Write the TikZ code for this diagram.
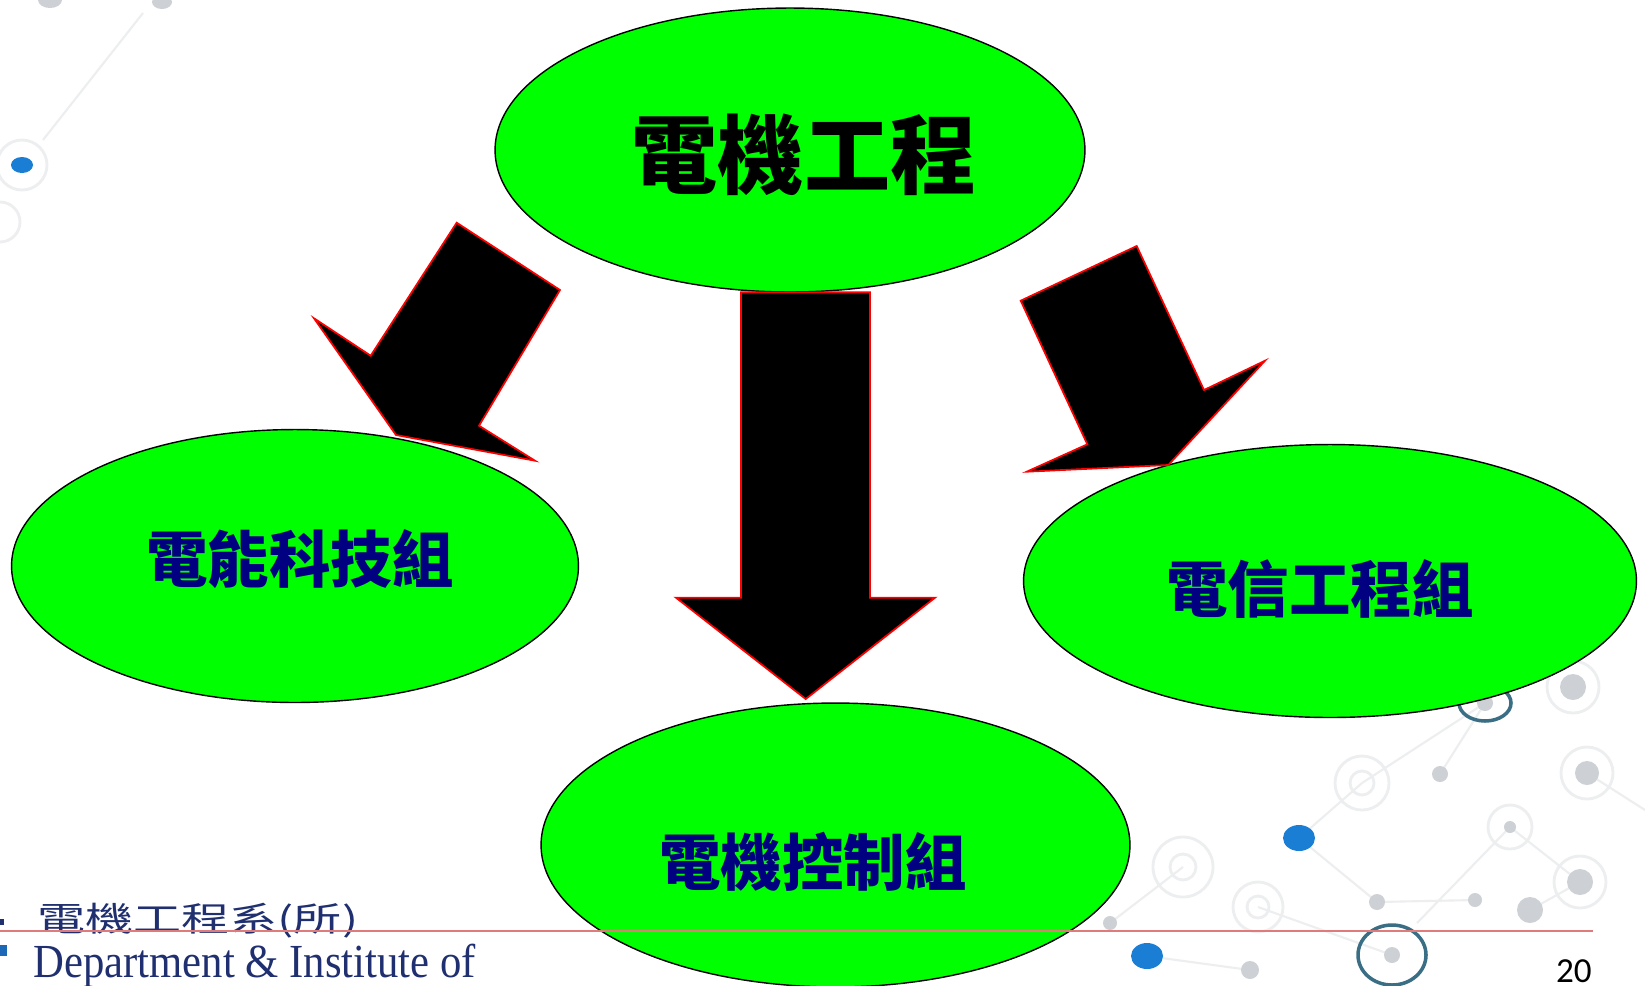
\documentclass[tikz,border=0pt]{standalone}
\usepackage{fontspec}
\setmainfont{Liberation Serif}
\newfontfamily\cjk{Noto Sans CJK TC}
\newfontfamily\numfont{Carlito}
\usetikzlibrary{shapes.geometric}
\definecolor{bubgreen}{HTML}{00FF00}
\definecolor{navytext}{HTML}{000080}
\definecolor{footnavy}{HTML}{1F2F6F}
\definecolor{dotblue}{HTML}{1A7FD4}
\definecolor{ringteal}{HTML}{3A6E85}
\definecolor{dotgray}{HTML}{CDD1D5}
\definecolor{faintgray}{HTML}{EDEEF0}
\definecolor{rulered}{HTML}{E07B7B}
\tikzset{
  bub/.style={ellipse, draw=black, line width=0.8pt, fill=bubgreen, inner sep=0pt},
  blockarrow/.style={fill=black, draw=red, line width=1pt, line join=miter},
  toplbl/.style={font=\cjk\bfseries\fontsize{49}{49}\selectfont, text=black, inner sep=0pt},
  grplbl/.style={font=\cjk\bfseries\fontsize{35}{35}\selectfont, text=navytext, inner sep=0pt},
  bgline/.style={draw=faintgray, line width=1.2pt},
  bgring/.style={draw=faintgray, line width=1.6pt},
  bgdot/.style={fill=dotgray},
  bluedot/.style={fill=dotblue},
  darkring/.style={draw=ringteal, line width=2pt}
}
\begin{document}
\begin{tikzpicture}[x=0.02cm,y=-0.02cm]
\useasboundingbox (0,0) rectangle (1645,985);
\fill[white] (0,0) rectangle (1645,985);

% ---- faint background network ----
\draw[bgline] (143,13) -- (43,140);
\fill[bgdot] (50,0) ellipse (12 and 8);
\fill[bgdot] (162,2) ellipse (10 and 7);
\draw[bgring] (22,165) circle (25);
\draw[bgring] (0,222) circle (20);
\fill[bluedot] (22,165) ellipse (11 and 8);

\draw[bgline] (1485,703) -- (1362,783);
\draw[bgline] (1485,703) -- (1440,774);
\draw[bgline] (1362,783) -- (1299,838);
\draw[bgline] (1299,838) -- (1377,902);
\draw[bgline] (1377,902) -- (1475,900);
\draw[bgline] (1510,827) -- (1417,923);
\draw[bgline] (1510,827) -- (1580,882);
\draw[bgline] (1580,882) -- (1530,910);
\draw[bgline] (1183,867) -- (1110,923);
\draw[bgline] (1258,907) -- (1392,955);
\draw[bgline] (1147,956) -- (1250,970);
\draw[bgline] (1587,773) -- (1645,810);
\draw[bgring] (1362,783) circle (27);
\draw[bgring] (1362,783) circle (12);
\draw[bgring] (1183,867) circle (30);
\draw[bgring] (1183,867) circle (13);
\draw[bgring] (1258,907) circle (25);
\draw[bgring] (1258,907) circle (11);
\draw[bgring] (1510,827) circle (22);
\draw[bgring] (1580,882) circle (26);
\draw[bgring] (1587,773) circle (26);
\draw[bgring] (1573,687) circle (26);
\fill[bgdot] (1440,774) circle (8);
\fill[bgdot] (1377,902) circle (8);
\fill[bgdot] (1475,900) circle (7);
\fill[bgdot] (1110,923) circle (7);
\fill[bgdot] (1250,970) circle (9);
\fill[bgdot] (1510,827) circle (6);
\fill[bgdot] (1530,910) circle (13);
\fill[bgdot] (1580,882) circle (13);
\fill[bgdot] (1587,773) circle (12);
\fill[bgdot] (1573,687) circle (13);
\fill[bgdot] (1392,955) circle (8);
\fill[bgdot] (1485,703) circle (8);
\draw[darkring] (1485,703) ellipse (26 and 18);
\draw[darkring] (1392,955) ellipse (34 and 30);
\fill[bluedot] (1299,838) ellipse (16 and 13);
\fill[bluedot] (1147,956) ellipse (16 and 13);

% ---- bubbles ----
\node[bub, minimum width=11.80cm, minimum height=5.68cm] (top) at (790,150) {};
\node[bub, minimum width=11.34cm, minimum height=5.46cm] (left) at (295,566) {};
\node[bub, minimum width=12.26cm, minimum height=5.46cm] (right) at (1330,581) {};
\node[bub, minimum width=11.78cm, minimum height=5.68cm] (bottom) at (835.5,845) {};

\node[toplbl] (toptext) at (804,155) {電機工程};
\node[grplbl] (lefttext) at (300,559) {電能科技組};
\node[grplbl] (righttext) at (1320,589) {電信工程組};
\node[grplbl] (bottomtext) at (813,862) {電機控制組};

% ---- block arrows ----
\draw[blockarrow] (456.7,222.7) -- (560,290) -- (479,425.7) -- (535,460.7)
  -- (396,435) -- (314,318.3) -- (370.7,355.7) -- cycle;
\draw[blockarrow] (741,292.3) -- (870,292.3) -- (870,597.7) -- (935,597.7)
  -- (805.7,699) -- (676,597.7) -- (741,597.7) -- cycle;
\draw[blockarrow] (1020.7,300.7) -- (1136.7,246) -- (1204,390) -- (1265,360.7)
  -- (1168.3,465) -- (1026.7,471.7) -- (1087.3,444.3) -- cycle;

% ---- footer ----
\fill[footnavy] (0,919) rectangle (4,925);
\fill[dotblue!70!footnavy] (0,945) rectangle (7,956);
\node[anchor=base west, inner sep=0pt, text=footnavy,
  font=\cjk\fontsize{24}{24}\selectfont] (foot1) at (37,931)
  {\scalebox{1.14}[0.8]{電機工程系(所)}};
\node[anchor=base west, inner sep=0pt, text=footnavy,
  font=\fontsize{27}{27}\selectfont] (foot2) at (33,977)
  {\scalebox{0.9}[1]{Department \& Institute of}};
\draw[rulered, line width=0.9pt] (0,931) -- (1593,931);
\node[anchor=base east, inner sep=0pt, font=\numfont\fontsize{20}{20}\selectfont]
  (pagenum) at (1592,982) {20};
\end{tikzpicture}
\end{document}
